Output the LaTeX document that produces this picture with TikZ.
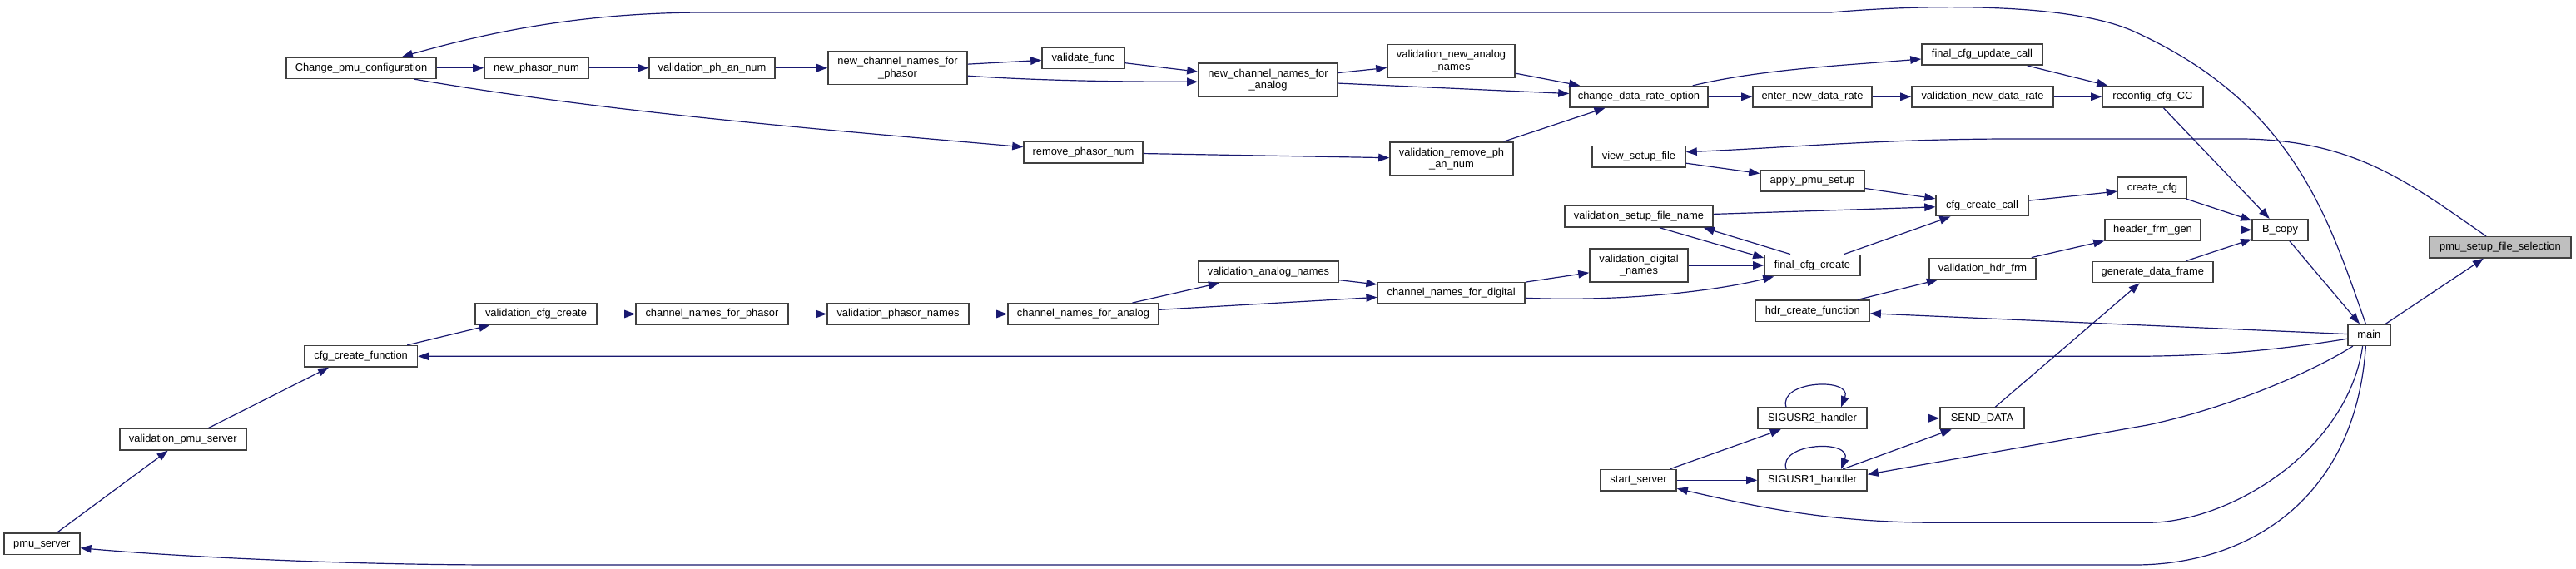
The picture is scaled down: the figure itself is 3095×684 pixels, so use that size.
\documentclass[tikz,border=0pt]{standalone}
\usepackage{fontspec}
\setmainfont{Liberation Sans}
\usetikzlibrary{arrows.meta,calc}
\definecolor{edgec}{HTML}{191970}
\definecolor{boxc}{HTML}{404040}
\definecolor{rootc}{HTML}{BFBFBF}
\tikzset{
  boxbase/.style={draw=boxc, fill=white, line width=1.6pt, inner sep=0pt},
  box/.style={boxbase, minimum height=25.3pt, text height=9.5pt, text depth=2.8pt},
  boxtwo/.style={boxbase, minimum height=40pt, align=center},
  conn/.style={draw=edgec, line width=1.2pt, -{Triangle[length=13pt,width=9.5pt]}}
}
\begin{document}
\begin{tikzpicture}[x=1pt, y=-1pt, font=\fontsize{12.9}{14.5}\selectfont]
\fill[white] (0,0) rectangle (3095,684);
\useasboundingbox (0,0) rectangle (3095,684);

% nodes
\node[box, minimum width=180pt] (cpc) at (434,81.7) {Change\_pmu\_configuration};
\node[box, minimum width=125pt] (npn) at (644.5,81.7) {new\_phasor\_num};
\node[box, minimum width=151pt] (vpan) at (855.5,81.7) {validation\_ph\_an\_num};
\node[boxtwo, minimum width=167pt] (ncp) at (1078.5,81.7) {new\_channel\_names\_for\\\_phasor};
\node[box, minimum width=99pt] (vf) at (1301.5,69.7) {validate\_func};
\node[boxtwo, minimum width=167pt] (nca) at (1523.5,96.3) {new\_channel\_names\_for\\\_analog};
\node[boxtwo, minimum width=153pt] (vnan) at (1743.5,73.5) {validation\_new\_analog\\\_names};
\node[box, minimum width=166pt] (cdro) at (1969,116.3) {change\_data\_rate\_option};
\node[box, minimum width=145pt] (fcuc) at (2381.5,65.5) {final\_cfg\_update\_call};
\node[box, minimum width=143pt] (ende) at (2177.5,116.3) {enter\_new\_data\_rate};
\node[box, minimum width=170pt] (vndr) at (2382,116.3) {validation\_new\_data\_rate};
\node[box, minimum width=121pt] (rcc) at (2586.5,116.3) {reconfig\_cfg\_CC};
\node[box, minimum width=143pt] (rpn) at (1301.5,183.3) {remove\_phasor\_num};
\node[boxtwo, minimum width=148pt] (vrpan) at (1744,191) {validation\_remove\_ph\\\_an\_num};
\node[box, minimum width=112pt] (vsf) at (1969,188.3) {view\_setup\_file};
\node[box, minimum width=125pt] (aps) at (2177.5,217.3) {apply\_pmu\_setup};
\node[box, minimum width=111pt] (ccc) at (2381.5,247) {cfg\_create\_call};
\node[box, minimum width=83pt] (ccfg) at (2586,225.7) {create\_cfg};
\node[box, minimum width=178pt] (vsfn) at (1969,260.3) {validation\_setup\_file\_name};
\node[box, minimum width=115pt] (hfg) at (2586.5,276.3) {header\_frm\_gen};
\node[box, minimum width=67pt] (bc) at (2739.5,276.3) {B\_copy};
\node[box, minimum width=170pt, fill=rootc] (psfs) at (3004,297.3) {pmu\_setup\_file\_selection};
\node[boxtwo, minimum width=118pt] (vdn) at (1969,319) {validation\_digital\\\_names};
\node[box, minimum width=115pt] (fcc) at (2177.5,319) {final\_cfg\_create};
\node[box, minimum width=128pt] (vhf) at (2382,323) {validation\_hdr\_frm};
\node[box, minimum width=145pt] (gdf) at (2586.3,327) {generate\_data\_frame};
\node[box, minimum width=168pt] (van) at (1524,326.8) {validation\_analog\_names};
\node[box, minimum width=177pt] (cnfd) at (1743.7,352.3) {channel\_names\_for\_digital};
\node[box, minimum width=146pt] (vcc) at (644,377.5) {validation\_cfg\_create};
\node[box, minimum width=183pt] (cnfp) at (855.5,377.5) {channel\_names\_for\_phasor};
\node[box, minimum width=170pt] (vpn) at (1079,377.5) {validation\_phasor\_names};
\node[box, minimum width=181pt] (cnfa) at (1301.5,377.5) {channel\_names\_for\_analog};
\node[box, minimum width=136.5pt] (hcf) at (2177.8,373.8) {hdr\_create\_function};
\node[box, minimum width=51pt] (main) at (2846.3,402.7) {main};
\node[box, minimum width=136pt] (ccf) at (433.6,428.3) {cfg\_create\_function};
\node[box, minimum width=131pt] (s2) at (2177.5,502.8) {SIGUSR2\_handler};
\node[box, minimum width=101pt] (sd) at (2381.5,502.8) {SEND\_DATA};
\node[box, minimum width=152pt] (vps) at (219.8,528.3) {validation\_pmu\_server};
\node[box, minimum width=91pt] (ss) at (1968.5,577.3) {start\_server};
\node[box, minimum width=131pt] (s1) at (2177.5,577.3) {SIGUSR1\_handler};
\node[box, minimum width=91pt] (ps) at (50.3,653.7) {pmu\_server};

% edges
\draw[conn] (cpc) -- (npn);
\draw[conn] (npn) -- (vpan);
\draw[conn] (vpan) -- (ncp);
\draw[conn] (ncp) -- (vf);
\draw[conn] ($(ncp.east)+(0,9.5)$) .. controls +(90,6) and +(-90,0) .. ($(nca.west)+(0,2)$);
\draw[conn] (vf) -- (nca);
\draw[conn] (nca) -- (vnan);
\draw[conn] (nca) -- (cdro);
\draw[conn] (vnan) -- (cdro);
\draw[conn] ($(cpc.south east)+(-27,0)$) .. controls +(240,41) and +(-240,-21) .. ($(rpn.west)+(0,-6.6)$);
\draw[conn] (rpn) -- (vrpan);
\draw[conn] (vrpan) -- (cdro);
\draw[conn] ($(cdro.north east)+(-19,0)$) .. controls +(80,-19) and +(-100,8) .. ($(fcuc.west)+(0,5.5)$);
\draw[conn] (cdro) -- (ende);
\draw[conn] (ende) -- (vndr);
\draw[conn] (vndr) -- (rcc);
\draw[conn] (fcuc) -- (rcc);
\draw[conn] (rcc) -- (bc);
\draw[conn] (ccfg) -- (bc);
\draw[conn] (hfg) -- (bc);
\draw[conn] (gdf) -- (bc);
\draw[conn] (bc) -- (main);
\draw[conn] (main) -- (psfs);
\draw[conn] ($(psfs.north)+(-17,0)$) .. controls +(-90,-62) and +(140,0) .. (2690,167) -- (2420,167) .. controls +(-160,0) and +(120,-5) .. ($(vsf.east)+(0,-5.6)$);
\draw[conn] ($(main.north)+(-4,0)$) .. controls (2797,260) and (2755,125) .. (2565,38.3) .. controls (2485,1.3) and (2300,6) .. (2200,15) -- (850,15) .. controls (700,15) and (590,38) .. ($(cpc.north)+(49,0)$);
\draw[conn] (vsf) -- (aps);
\draw[conn] (aps) -- (ccc);
\draw[conn] (vsfn) -- (ccc);
\draw[conn] (fcc) -- (ccc);
\draw[conn] (ccc) -- (ccfg);
\draw[conn] ($(fcc.north)+(-26.5,0)$) -- ($(vsfn.south east)+(-12,0)$);
\draw[conn] ($(vsfn.south)+(25,0)$) -- ($(fcc.west)+(0,-9)$);
\draw[conn] (vdn) -- (fcc);
\draw[conn] ($(cnfd.east)+(0,6)$) .. controls +(130,5) and +(-60,15) .. ($(fcc.south west)+(12,0)$);
\draw[conn] (cnfd) -- (vdn);
\draw[conn] (van) -- (cnfd);
\draw[conn] (cnfa) -- (van);
\draw[conn] (cnfa) -- (cnfd);
\draw[conn] (vpn) -- (cnfa);
\draw[conn] (cnfp) -- (vpn);
\draw[conn] (vcc) -- (cnfp);
\draw[conn] (ccf) -- (vcc);
\draw[conn] ($(main.west)+(0,4.6)$) .. controls +(-80,13) and +(100,0) .. (2560,428.3) -- (ccf.east);
\draw[conn] ($(vps.north)+(30,0)$) -- ($(ccf.south)+(-38.6,0)$);
\draw[conn] (ps) -- (vps);
\draw[conn] ($(main.south)+(-4,0)$) .. controls +(-12,185) and +(135,0) .. (2565,679) -- (600,679) .. controls +(-200,0) and +(100,9) .. ($(ps.east)+(0,5)$);
\draw[conn] (main) -- (hcf);
\draw[conn] (hcf) -- (vhf);
\draw[conn] (vhf) -- (hfg);
\draw[conn] (sd) -- (gdf);
\draw[conn] (s2) -- (sd);
\draw[conn] (s1) -- (sd);
\draw[conn] (ss) -- (s2);
\draw[conn] (ss) -- (s1);
\draw[conn] ($(s2.north)+(-31.5,0)$) .. controls +(-10,-32) and +(14,-36) .. ($(s2.north)+(34.5,0)$);
\draw[conn] ($(s1.north)+(-31.5,0)$) .. controls +(-10,-32) and +(14,-36) .. ($(s1.north)+(34.5,0)$);
\draw[conn] ($(main.south)+(-19.5,0)$) .. controls +(-47,30) and +(100,-21) .. (2580,511) -- ($(s1.east)+(0,-7)$);
\draw[conn] ($(main.south)+(-7.7,0)$) .. controls +(-18,125) and +(100,0) .. (2580,628.3) -- (2330,628.3) .. controls +(-130,0) and +(100,23) .. ($(ss.east)+(0,10)$);
\end{tikzpicture}
\end{document}
